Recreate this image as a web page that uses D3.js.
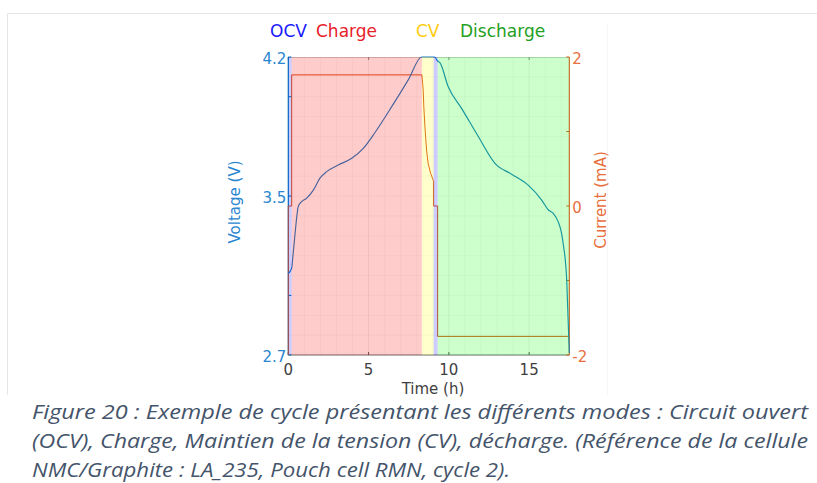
<!DOCTYPE html>
<meta charset="utf-8">
<style>
  body { margin: 0; background: #fff; }
  text { font-family: "DejaVu Sans", Verdana, sans-serif; }
  .caption { font-family: "Open Sans", sans-serif; font-style: italic; font-size: 19.5px; fill: #44546a; }
</style>
<body>
<script src="https://d3js.org/d3.v7.min.js"></script>
<script>
// voltage curve (h, V)
var timeV = [0, 0.21, 0.29, 0.42, 0.62, 0.77, 1.15, 1.56, 1.97, 2.39, 3.11, 3.95, 4.67, 5.40, 6.44, 7.47, 8.31,
  8.7, 9.1, 9.3, 9.45, 9.96, 10.8, 11.83, 12.87, 13.91, 14.94, 15.78, 16.2, 16.5, 16.81, 17.0, 17.12, 17.34, 17.5];
var voltage = [3.11, 3.137, 3.2, 3.31, 3.447, 3.467, 3.49, 3.53, 3.59, 3.623, 3.656, 3.69, 3.74, 3.82, 3.95, 4.085, 4.2,
  4.2, 4.2, 4.18, 4.17, 4.05, 3.94, 3.80, 3.665, 3.61, 3.555, 3.48, 3.43, 3.413, 3.37, 3.32, 3.26, 3.075, 2.71];

// current (h, mA)
var timeI = [0, 0, 0.21, 0.21, 8.32, 8.40, 8.44, 8.51, 8.61, 8.71, 8.86, 9.02, 9.05, 9.05, 9.30, 9.30, 17.5];
var current = [-2, 0, 0, 1.76, 1.76, 1.56, 1.33, 1.06, 0.75, 0.57, 0.44, 0.35, 0.33, 0, 0, -1.75, -1.75];

// test modes
var modes = ["OCV", "Charge", "CV", "OCV", "Discharge"];
var modeStart = [0, 0.21, 8.32, 9.05, 9.30];
var modeEnd = [0.21, 8.32, 9.05, 9.30, 17.5];
var modeColor = {OCV: "#0000ff", Charge: "#ff0000", CV: "#ffff00", Discharge: "#00ff00"};

var titleParts = ["OCV", "Charge", "CV", "Discharge"];
var titleColor = ["#1a1aff", "#e8202a", "#ffcc11", "#22a022"];
var titleX = [270, 316, 416, 460];

var xTicks = [0, 5, 10, 15];
var vTicks = [2.7, 3.5, 4.2];
var iTicks = [-2, 0, 2];

var caption = [
  "Figure 20 : Exemple de cycle présentant les différents modes : Circuit ouvert",
  "(OCV), Charge, Maintien de la tension (CV), décharge. (Référence de la cellule",
  "NMC/Graphite : LA_235, Pouch cell RMN, cycle 2)."
];

(function() {
var W = 817, H = 483;
var left = 288.3, right = 569.3, pTop = 57, pBottom = 355;
var blue = "#0072bd", orange = "#d95319";

var svg = d3.select("body").append("svg").attr("width", W).attr("height", H);

// outer frame
svg.append("path").attr("d", "M7.5,395V13.5H817").attr("fill", "none").attr("stroke", "#e6e6e6");
svg.append("line").attr("x1", 607.5).attr("x2", 607.5).attr("y1", 23).attr("y2", 395).attr("stroke", "#f5f5f5");

var x = d3.scaleLinear().domain([0, 17.5]).range([left, right]);
var yV = d3.scaleLinear().domain([2.7, 4.2]).range([pBottom, pTop]);
var yI = d3.scaleLinear().domain([-2, 2]).range([pBottom, pTop]);

// grid
var g = svg.append("g");
g.selectAll(".gx").data(d3.range(1, 18)).enter().append("line")
  .attr("x1", d => x(d)).attr("x2", d => x(d)).attr("y1", pTop).attr("y2", pBottom)
  .attr("stroke", "#000").attr("stroke-opacity", d => d % 5 == 0 ? 0.07 : 0.03);
g.selectAll(".gy").data(d3.range(28, 42)).enter().append("line")
  .attr("x1", left).attr("x2", right).attr("y1", d => yV(d / 10)).attr("y2", d => yV(d / 10))
  .attr("stroke", "#000").attr("stroke-opacity", 0.03);

// box
svg.append("line").attr("x1", left).attr("x2", right).attr("y1", pTop + 0.5).attr("y2", pTop + 0.5).attr("stroke", "#ccc");
svg.append("line").attr("x1", left).attr("x2", right).attr("y1", pBottom).attr("y2", pBottom).attr("stroke", "#666");
svg.selectAll(".tb").data(xTicks).enter().append("line")
  .attr("x1", d => x(d)).attr("x2", d => x(d)).attr("y1", pBottom).attr("y2", pBottom - 3).attr("stroke", "#555");
svg.selectAll(".tt").data(xTicks).enter().append("line")
  .attr("x1", d => x(d)).attr("x2", d => x(d)).attr("y1", pTop).attr("y2", pTop + 3).attr("stroke", "#888");

// y axes lines
svg.append("line").attr("x1", left).attr("x2", left).attr("y1", pTop).attr("y2", pBottom).attr("stroke", blue).attr("stroke-width", 1.2);
svg.append("line").attr("x1", right).attr("x2", right).attr("y1", pTop).attr("y2", pBottom).attr("stroke", orange).attr("stroke-width", 1.1);
svg.selectAll(".tl").data([2.7, 3.0, 3.5, 4.0, 4.2]).enter().append("line")
  .attr("x1", left).attr("x2", left + 3).attr("y1", d => yV(d)).attr("y2", d => yV(d)).attr("stroke", blue);
svg.selectAll(".tr").data([-2, -1, 0, 1, 2]).enter().append("line")
  .attr("x1", right).attr("x2", right - 3).attr("y1", d => yI(d)).attr("y2", d => yI(d)).attr("stroke", orange);

// data lines
svg.append("path").datum(d3.zip(timeI, current))
  .attr("fill", "none").attr("stroke", orange).attr("stroke-width", 1)
  .attr("d", d3.line().x(d => x(d[0])).y(d => yI(d[1])));
svg.append("path").datum(d3.zip(timeV, voltage))
  .attr("fill", "none").attr("stroke", "#1a7cc4").attr("stroke-width", 1.15)
  .attr("d", d3.line().curve(d3.curveMonotoneX).x(d => x(d[0])).y(d => yV(d[1])));

// mode patches on top
svg.selectAll(".mode").data(modes).enter().append("rect")
  .attr("x", (d, i) => x(modeStart[i])).attr("width", (d, i) => x(modeEnd[i]) - x(modeStart[i]))
  .attr("y", pTop).attr("height", pBottom - pTop)
  .attr("fill", d => modeColor[d]).attr("fill-opacity", 0.2);

// tick labels
svg.selectAll(".lx").data(xTicks).enter().append("text")
  .attr("x", d => x(d)).attr("y", 375).attr("text-anchor", "middle")
  .attr("font-size", 15).attr("fill", "#404040").text(d => d);
svg.selectAll(".lv").data(vTicks).enter().append("text")
  .attr("x", left - 2).attr("y", d => yV(d) + 7).attr("text-anchor", "end")
  .attr("font-size", 15).attr("fill", "#2a86d0").text(d => d.toFixed(1));
svg.selectAll(".li").data(iTicks).enter().append("text")
  .attr("x", right + 3).attr("y", d => yI(d) + 7)
  .attr("font-size", 15).attr("fill", "#e8703e").text(d => d);

// axis titles
svg.append("text").attr("x", 433).attr("y", 394).attr("text-anchor", "middle")
  .attr("font-size", 15).attr("fill", "#404040").text("Time (h)");
svg.append("text").attr("transform", "translate(240,202) rotate(-90)").attr("text-anchor", "middle")
  .attr("font-size", 15).attr("fill", "#2a86d0").text("Voltage (V)");
svg.append("text").attr("transform", "translate(606,200) rotate(-90)").attr("text-anchor", "middle")
  .attr("font-size", 15).attr("fill", "#e8703e").text("Current (mA)");

// title
svg.selectAll(".title").data(titleParts).enter().append("text")
  .attr("x", (d, i) => titleX[i]).attr("y", 37)
  .attr("font-size", 17).attr("fill", (d, i) => titleColor[i]).text(d => d);

// caption
svg.selectAll(".caption").data(caption).enter().append("text")
  .attr("class", "caption")
  .attr("x", 32).attr("y", (d, i) => 419 + i * 29)
  .attr("textLength", (d, i) => i < 2 ? 776 : 478).attr("lengthAdjust", "spacingAndGlyphs")
  .text(d => d);
})();
</script>
</body>
